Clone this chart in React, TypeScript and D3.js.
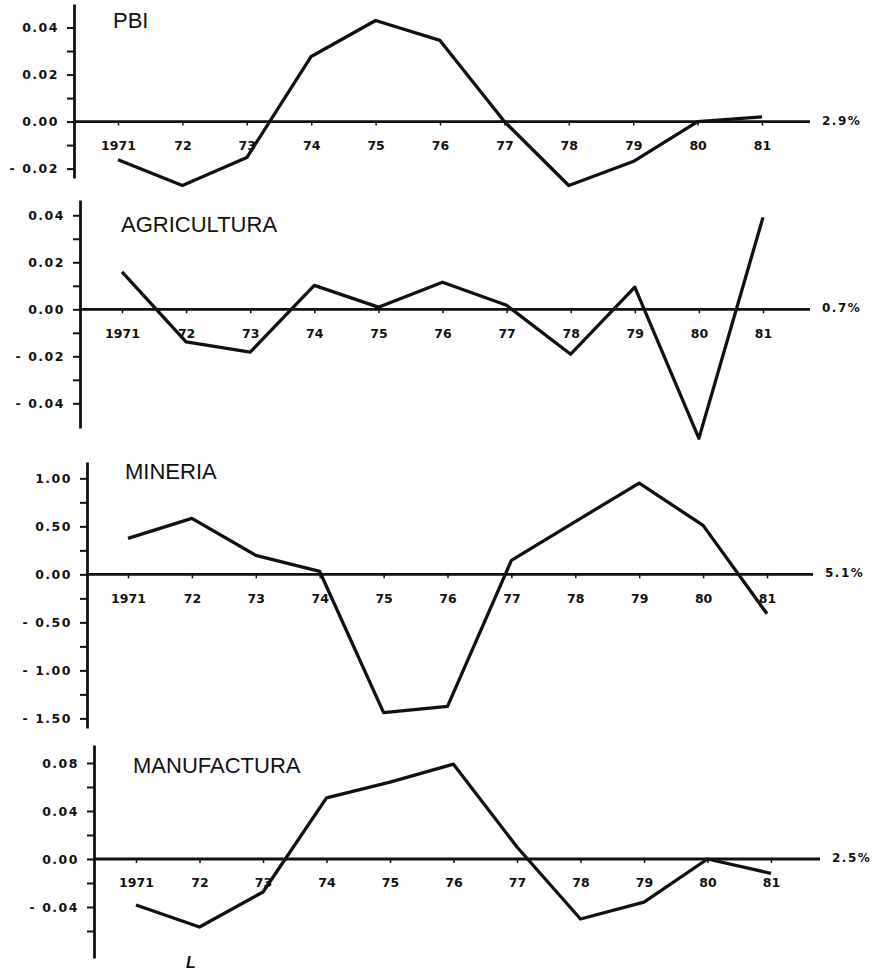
import { useRef, useEffect } from 'react';
import * as d3 from 'd3';

const W = 890;
const H = 972;

const YEARS = ['1971', '72', '73', '74', '75', '76', '77', '78', '79', '80', '81'];

// deviations, one array per sector
const PBI = [-0.0162, -0.0272, -0.0153, 0.0277, 0.043, 0.0345, 0.0, -0.0272, -0.017, 0.0, 0.002];
const AGRICULTURA = [0.0159, -0.0139, -0.0182, 0.0102, 0.0009, 0.0115, 0.0017, -0.0191, 0.0094, -0.0549, 0.0391];
const MINERIA = [0.375, 0.583, 0.198, 0.03, -1.44, -1.375, 0.146, 0.55, 0.95, 0.51, -0.41];
const MANUFACTURA = [-0.0383, -0.0567, -0.0275, 0.051, 0.064, 0.079, 0.01, -0.05, -0.036, 0.0, -0.012];

const TITLES = ['PBI', 'AGRICULTURA', 'MINERIA', 'MANUFACTURA'];
const RATES = ['2.9%', '0.7%', '5.1%', '2.5%'];

const MAJOR = [
  [0.04, 0.02, 0, -0.02],
  [0.04, 0.02, 0, -0.02, -0.04],
  [1, 0.5, 0, -0.5, -1, -1.5],
  [0.08, 0.04, 0, -0.04],
];
const MINOR = [
  [0.03, 0.01, -0.01],
  [0.03, 0.01, -0.01, -0.03],
  [0.75, 0.25, -0.25, -0.75, -1.25],
  [0.06, 0.02, -0.02, -0.06],
];
const DOMAINS = [
  [-0.024, 0.05],
  [-0.0505, 0.0465],
  [-1.6, 1.17],
  [-0.0825, 0.095],
];

// where each panel sits on the scanned page (it drifts right as it goes down)
const LAYOUT = [
  { axisX: 74, x0: 118, x1: 762, end: 810, top: 4, bottom: 178, title: [113, 28] },
  { axisX: 80, x0: 122, x1: 763, end: 810, top: 200, bottom: 428, title: [121, 232] },
  { axisX: 87, x0: 128, x1: 767, end: 813, top: 462, bottom: 728, title: [125, 479] },
  { axisX: 94, x0: 136, x1: 771, end: 820, top: 745, bottom: 958, title: [133, 773] },
];

const SERIES = [PBI, AGRICULTURA, MINERIA, MANUFACTURA];

const INK = '#111';
const NUM_FONT = '"DejaVu Sans", sans-serif';
const TITLE_FONT = '"Liberation Sans", Arial, sans-serif';

function fmt(v: number) {
  if (v === 0) return '0.00';
  return v < 0 ? '- ' + Math.abs(v).toFixed(2) : v.toFixed(2);
}

export default function App() {
  const svgRef = useRef<SVGSVGElement>(null);

  useEffect(() => {
    if (!svgRef.current) return;
    const svg = d3.select(svgRef.current);
    svg.selectAll('*').remove();

    svg.append('rect').attr('width', W).attr('height', H).attr('fill', '#fff');

    SERIES.forEach((values, p) => {
      const lay = LAYOUT[p];
      const x = d3.scalePoint<string>().domain(YEARS).range([lay.x0, lay.x1]);
      const y = d3.scaleLinear().domain(DOMAINS[p]).range([lay.bottom, lay.top]);
      const zero = y(0);
      const g = svg.append('g');

      // vertical axis, labelled majors + unlabelled minors
      const major = new Set(MAJOR[p]);
      const yAxis = d3
        .axisLeft(y)
        .tickValues([...MAJOR[p], ...MINOR[p]])
        .tickSize(7)
        .tickSizeOuter(0)
        .tickPadding(8)
        .tickFormat((d) => (major.has(+d) ? fmt(+d) : ''));

      g.append('g')
        .attr('transform', `translate(${lay.axisX},0)`)
        .call(yAxis)
        .call((a) => a.select('.domain').attr('stroke', INK).attr('stroke-width', 2.8))
        .call((a) => a.selectAll('line').attr('stroke', INK).attr('stroke-width', 2))
        .call((a) =>
          a
            .selectAll('text')
            .attr('fill', INK)
            .attr('font-family', NUM_FONT)
            .attr('font-weight', 'bold')
            .attr('font-size', 12.5)
            .attr('letter-spacing', 1.5)
        );

      // zero line runs past the last year
      g.append('line')
        .attr('x1', lay.axisX)
        .attr('x2', lay.end)
        .attr('y1', zero)
        .attr('y2', zero)
        .attr('stroke', INK)
        .attr('stroke-width', 2.8);

      const xAxis = d3.axisBottom(x).tickSize(4).tickSizeOuter(0).tickPadding(15.5);
      g.append('g')
        .attr('transform', `translate(0,${zero})`)
        .call(xAxis)
        .call((a) => a.select('.domain').remove())
        .call((a) => a.selectAll('line').attr('stroke', INK).attr('stroke-width', 1.5))
        .call((a) =>
          a
            .selectAll('text')
            .attr('fill', INK)
            .attr('font-family', NUM_FONT)
            .attr('font-weight', 'bold')
            .attr('font-size', 12.5)
        );

      // growth rate at the end of the zero line
      g.append('text')
        .attr('x', lay.end + 12)
        .attr('y', zero + 3)
        .attr('fill', INK)
        .attr('font-family', NUM_FONT)
        .attr('font-weight', 'bold')
        .attr('font-size', 12)
        .attr('letter-spacing', 1.5)
        .text(RATES[p]);

      g.append('text')
        .attr('x', lay.title[0])
        .attr('y', lay.title[1])
        .attr('fill', INK)
        .attr('font-family', TITLE_FONT)
        .attr('font-size', 22)
        .text(TITLES[p]);

      const line = d3
        .line<number>()
        .x((_, i) => x(YEARS[i]) as number)
        .y((d) => y(d));

      g.append('path')
        .datum(values)
        .attr('d', line)
        .attr('fill', 'none')
        .attr('stroke', INK)
        .attr('stroke-width', 3.3)
        .attr('stroke-linejoin', 'round');
    });

    // stray letter at the foot of the page
    svg.append('text')
      .attr('x', 186)
      .attr('y', 968)
      .attr('fill', INK)
      .attr('font-family', TITLE_FONT)
      .attr('font-style', 'italic')
      .attr('font-weight', 'bold')
      .attr('font-size', 16)
      .text('L');
  }, []);

  return (
    <div style={{ position: 'absolute', left: 0, top: 0 }}>
      <svg ref={svgRef} width={W} height={H} style={{ display: 'block' }} />
    </div>
  );
}
